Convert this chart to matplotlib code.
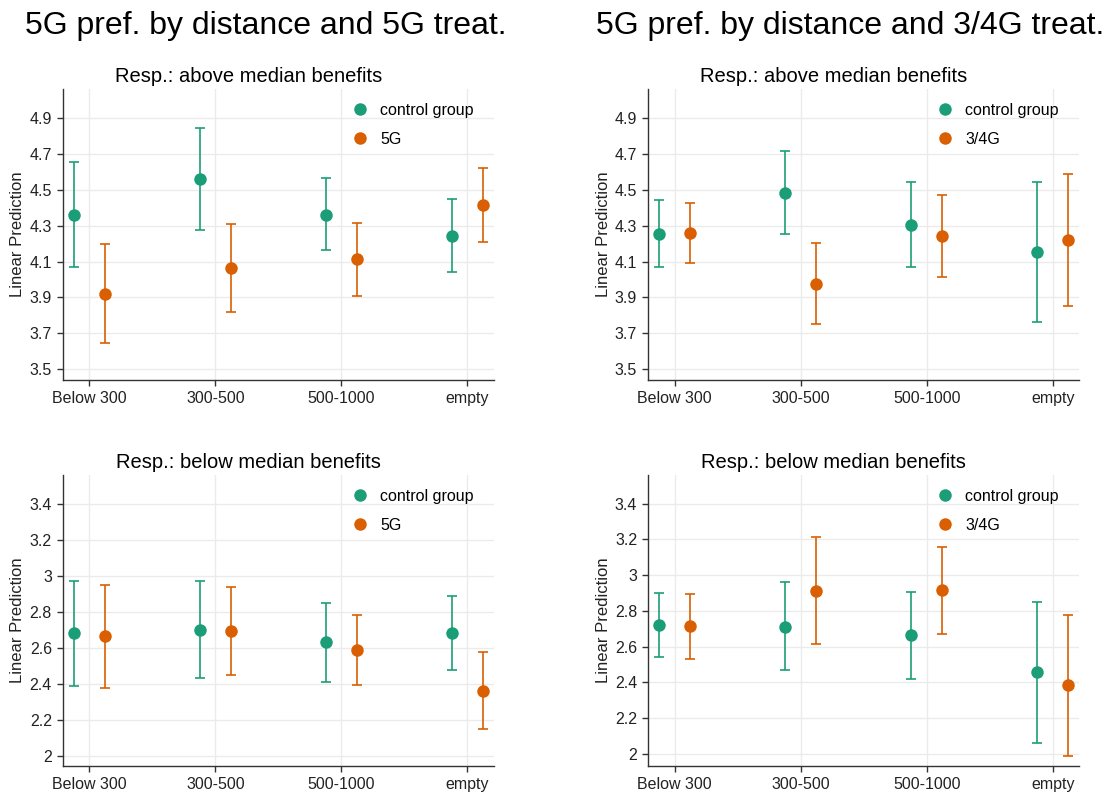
import matplotlib
matplotlib.use('Agg')
import matplotlib.pyplot as plt
import numpy as np

plt.rcParams['font.family'] = ['Liberation Sans', 'DejaVu Sans']

categories = ['Below 300', '300-500', '500-1000', 'empty']

# top-left: above median benefits, 5G treatment
tl_ctrl = [4.36, 4.558, 4.362, 4.245]
tl_ctrl_lo = [4.07, 4.276, 4.163, 4.044]
tl_ctrl_hi = [4.657, 4.844, 4.564, 4.449]
tl_trt = [3.922, 4.063, 4.115, 4.415]
tl_trt_lo = [3.647, 3.818, 3.909, 4.209]
tl_trt_hi = [4.196, 4.31, 4.317, 4.622]

# top-right: above median benefits, 3/4G treatment
tr_ctrl = [4.254, 4.484, 4.304, 4.152]
tr_ctrl_lo = [4.072, 4.256, 4.072, 3.766]
tr_ctrl_hi = [4.442, 4.716, 4.542, 4.542]
tr_trt = [4.258, 3.977, 4.241, 4.219]
tr_trt_lo = [4.094, 3.751, 4.016, 3.851]
tr_trt_hi = [4.425, 4.206, 4.469, 4.586]

# bottom-left: below median benefits, 5G treatment
bl_ctrl = [2.680, 2.700, 2.631, 2.682]
bl_ctrl_lo = [2.39, 2.431, 2.412, 2.477]
bl_ctrl_hi = [2.969, 2.973, 2.851, 2.886]
bl_trt = [2.663, 2.693, 2.585, 2.362]
bl_trt_lo = [2.375, 2.446, 2.392, 2.15]
bl_trt_hi = [2.951, 2.94, 2.78, 2.576]

# bottom-right: below median benefits, 3/4G treatment
br_ctrl = [2.719, 2.711, 2.663, 2.455]
br_ctrl_lo = [2.539, 2.466, 2.421, 2.06]
br_ctrl_hi = [2.902, 2.96, 2.904, 2.852]
br_trt = [2.713, 2.913, 2.915, 2.382]
br_trt_lo = [2.532, 2.616, 2.672, 1.989]
br_trt_hi = [2.896, 3.213, 3.159, 2.779]

top_ticks = [3.5, 3.7, 3.9, 4.1, 4.3, 4.5, 4.7, 4.9]
bottom_ticks = [2, 2.2, 2.4, 2.6, 2.8, 3, 3.2, 3.4]

GREEN = '#1b9e77'
ORANGE = '#d95f02'

fig = plt.figure(figsize=(11.15, 7.99), dpi=100)

lefts = [0.0565, 0.5814]
width = 0.3865
panels = [
    (lefts[0], 0.5244, 'Resp.: above median benefits', '5G',
     (tl_ctrl, tl_ctrl_lo, tl_ctrl_hi), (tl_trt, tl_trt_lo, tl_trt_hi), top_ticks, (3.44, 5.06)),
    (lefts[1], 0.5244, 'Resp.: above median benefits', '3/4G',
     (tr_ctrl, tr_ctrl_lo, tr_ctrl_hi), (tr_trt, tr_trt_lo, tr_trt_hi), top_ticks, (3.44, 5.06)),
    (lefts[0], 0.0413, 'Resp.: below median benefits', '5G',
     (bl_ctrl, bl_ctrl_lo, bl_ctrl_hi), (bl_trt, bl_trt_lo, bl_trt_hi), bottom_ticks, (1.943, 3.558)),
    (lefts[1], 0.0413, 'Resp.: below median benefits', '3/4G',
     (br_ctrl, br_ctrl_lo, br_ctrl_hi), (br_trt, br_trt_lo, br_trt_hi), bottom_ticks, (1.931, 3.559)),
]

x = np.arange(len(categories))

for left, bottom, title, trt_label, ctrl, trt, yticks, ylim in panels:
    ax = fig.add_axes([left, bottom, width, 0.3638])
    for (vals, lo, hi), off, col, lab in [(ctrl, -0.125, GREEN, 'control group'),
                                          (trt, 0.125, ORANGE, trt_label)]:
        vals = np.array(vals)
        yerr = [vals - np.array(lo), np.array(hi) - vals]
        ax.errorbar(x + off, vals, yerr=yerr, fmt='none', ecolor=col, alpha=0.85,
                    elinewidth=1.4, capsize=3.5, capthick=1.4, zorder=2)
        ax.plot(x + off, vals, 'o', color=col, ms=9, mec='none', label=lab, zorder=3)

    ax.set_xlim(-0.21, 3.21)
    ax.set_ylim(*ylim)
    ax.set_xticks(x)
    ax.set_xticklabels(categories, fontsize=11.5)
    ax.set_yticks(yticks)
    ax.set_yticklabels(['%g' % t for t in yticks], fontsize=11.5)
    ax.grid(True, color='#ebebeb', linewidth=1.0, zorder=0)
    ax.set_axisbelow(True)
    for s in ['top', 'right']:
        ax.spines[s].set_visible(False)
    for s in ['left', 'bottom']:
        ax.spines[s].set_color('#333333')
        ax.spines[s].set_linewidth(1.0)
    ax.tick_params(direction='out', length=4.5, width=1.0, color='#333333',
                   labelcolor='#222222', pad=3.5)
    ax.set_ylabel('Linear Prediction', fontsize=12, color='#222222', labelpad=3)
    ax.set_title(title, fontsize=14.5, x=0.43, pad=5)
    ax.legend(loc='upper left', bbox_to_anchor=(0.643, 0.99), frameon=False,
              fontsize=11.5, handletextpad=0.65, labelspacing=0.9, handlelength=1.2,
              borderaxespad=0.25)

fig.text(0.238, 0.968, '5G pref. by distance and 5G treat.', fontsize=23,
         ha='center', va='center')
fig.text(0.7625, 0.968, '5G pref. by distance and 3/4G treat.', fontsize=23,
         ha='center', va='center')

fig.savefig('out.png', dpi=100)
